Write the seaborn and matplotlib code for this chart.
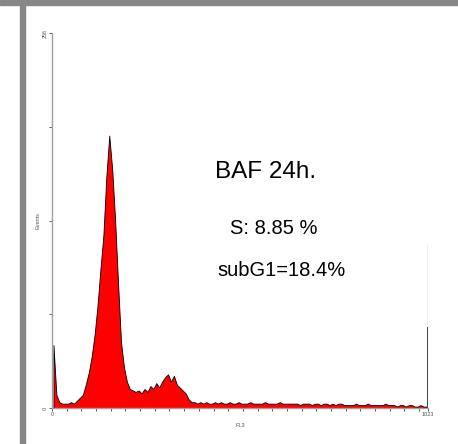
import numpy as np
import pandas as pd
from matplotlib import pyplot as plt
from matplotlib.patches import Rectangle
import seaborn as sns

# FL3 histogram, counts per 8-channel bin (channels 0..1023)
bin_width = 8
counts = [43, 9, 4, 3, 3, 3, 4, 3, 5, 7, 9, 16, 24, 35, 50, 70,
          95, 118, 158, 186, 163, 128, 85, 45, 28, 18, 13, 12, 11, 12, 10, 13,
          11, 15, 13, 17, 14, 18, 21, 23, 18, 22, 16, 14, 12, 10, 6, 4,
          4, 3, 4, 3, 4, 3, 3, 4, 3, 4, 3, 3, 4,
          3, 3, 4, 3, 3, 3, 4, 3, 3, 3, 3, 4, 3, 3, 3, 3, 4, 3, 3, 3,
          3, 3, 3, 2, 3, 3, 3, 2, 3, 3, 2, 3, 3, 2, 3, 2, 3, 3, 2, 2,
          2, 2, 3, 2, 2, 2, 3, 2, 2, 2, 2, 2, 3, 2, 2, 2, 1, 2, 2, 1, 2, 2, 1, 1, 2, 1,
          1]
# overflow channel at the right end
last_channel = 1023
last_count = 55
last_count_gray = 112

y_ticks = [0, 64, 128, 192, 256]
y_labels = ["0", "", "", "", "256"]
x_labels = ["0", "1023"]
title = "BAF 24h."
s_text = "S: 8.85 %"
sub_text = "subG1=18.4%"

df = pd.DataFrame({"channel": np.arange(len(counts)) * bin_width + bin_width / 2,
                   "count": counts})

sns.set_style("white")
plt.rcParams['font.family'] = ['Liberation Sans', 'DejaVu Sans']

fig = plt.figure(figsize=(4.58, 4.44), dpi=100)
ax = fig.add_axes([0.1135, 0.081, 0.821, 0.8446])

# gray frame bands of the screenshot
fig.patches.append(Rectangle((0, 0.989), 1, 0.011, transform=fig.transFigure, color="#878787", zorder=0))
fig.patches.append(Rectangle((0.0437, 0), 0.0118, 1, transform=fig.transFigure, color="#878787", zorder=0))

sns.histplot(data=df, x="channel", weights="count", binwidth=bin_width, binrange=(0, 1024),
             element="poly", fill=True, facecolor="red", edgecolor="black",
             linewidth=0.6, alpha=1, ax=ax)
ax.vlines(last_channel, 0, last_count_gray, color="#b0b0b0", lw=1)
ax.vlines(last_channel, 0, last_count, color="#222222", lw=1.2)

ax.set_xlim(0, 1024)
ax.set_ylim(0, 256)
sns.despine(ax=ax)
for sp in ["left", "bottom"]:
    ax.spines[sp].set_color("#a0a0a0")
    ax.spines[sp].set_linewidth(1)

ax.set_yticks(y_ticks)
ax.set_yticklabels(y_labels, rotation=90, va="center", fontsize=4, color="#555555")
ax.set_xticks([0, 1023])
ax.set_xticklabels(x_labels, fontsize=4, color="#555555")
ax.set_xticks(np.arange(0, 1024, 40), minor=True)
ax.tick_params(axis="both", which="both", direction="out", length=2, width=0.6,
               color="#444444", pad=1, left=True, bottom=True)
ax.set_xlabel("FL3", fontsize=4, color="#555555", labelpad=4)
ax.set_ylabel("Events", fontsize=4, color="#555555", labelpad=2)

ax.text(0.434, 0.629, title, transform=ax.transAxes, fontsize=17.5, va="center", ha="left", color="black")
ax.text(0.473, 0.48, s_text, transform=ax.transAxes, fontsize=14.5, va="center", ha="left", color="black")
ax.text(0.441, 0.368, sub_text, transform=ax.transAxes, fontsize=14.5, va="center", ha="left", color="black")

fig.savefig("out.png", dpi=100)
